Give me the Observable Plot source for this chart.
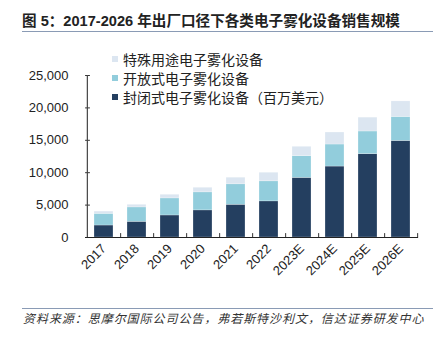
<!DOCTYPE html>
<html><head><meta charset="utf-8">
<script src="https://cdn.jsdelivr.net/npm/d3@7"></script>
<script src="https://cdn.jsdelivr.net/npm/@observablehq/plot@0.6"></script>
<style>
body{margin:0;background:#fff;width:446px;height:337px;position:relative;overflow:hidden;font-family:"Liberation Sans","Noto Sans CJK SC",sans-serif;}
#title{position:absolute;left:22px;top:12px;font-size:14.6px;font-weight:bold;color:#222;white-space:nowrap;line-height:18px;}
.hline{position:absolute;left:22px;width:411px;height:0;border-top:1px solid #8a9bb5;}
#chart{position:absolute;left:0;top:40px;}
#legend{position:absolute;left:112px;top:50px;font-size:14px;color:#222;font-family:"Noto Sans CJK SC",sans-serif;}
.row{display:flex;align-items:center;height:18.8px;white-space:nowrap;}
.sw{width:6px;height:6px;margin-right:5px;}
#caption{position:absolute;left:23px;top:309px;font-size:12px;font-style:italic;color:#333;white-space:nowrap;letter-spacing:0.95px;font-family:"Noto Sans CJK SC",sans-serif;line-height:18px;}
</style></head>
<body>
<div id="title">图 5：2017-2026 年出厂口径下各类电子雾化设备销售规模</div>
<div class="hline" style="top:31px"></div>
<div id="chart"></div>
<div id="legend"></div>
<div class="hline" style="top:308px"></div>
<div id="caption">资料来源：思摩尔国际公司公告，弗若斯特沙利文，信达证券研发中心</div>
<script>
const years = ["2017","2018","2019","2020","2021","2022","2023E","2024E","2025E","2026E"];
const closedVals  = [1850, 2420, 3400, 4180, 5050, 5570, 9200, 10950, 12860, 14900];
const openVals    = [1800, 2220, 2630, 2780, 3150, 3090, 3350, 3400, 3500, 3700];
const specialVals = [350, 410, 570, 720, 1030, 1340, 1450, 1850, 2140, 2400];
const seriesNames = ["封闭式电子雾化设备（百万美元）", "开放式电子雾化设备", "特殊用途电子雾化设备"];
const seriesColors = ["#243f60", "#92cddc", "#dce6f1"];
const yTicks = [0, 5000, 10000, 15000, 20000, 25000];

const allVals = [closedVals, openVals, specialVals];
const data = [];
seriesNames.forEach((s, i) => years.forEach((y, j) => data.push({year: y, series: s, value: allVals[i][j]})));

const W = 446, H = 260, mL = 85, mR = 28, mT = 35, mB = 63;
const step = (W - mL - mR) / years.length;
const tickShape = {draw(ctx, l){ ctx.moveTo(0,0); ctx.lineTo(0,-l); }};

const chart = Plot.plot({
  width: W, height: H,
  marginLeft: mL, marginRight: mR, marginTop: mT, marginBottom: mB,
  style: {fontFamily: "Liberation Sans, Arial, sans-serif", fontSize: "13px", color: "#222", background: "transparent"},
  x: {domain: years, paddingInner: 0.43, paddingOuter: 0.215, label: null},
  y: {domain: [0, 25000], label: null},
  color: {domain: seriesNames, range: seriesColors},
  marks: [
    Plot.barY(data, Plot.stackY({x: "year", y: "value", fill: "series", stroke: "#fff", strokeWidth: 0.4, strokeOpacity: 0.6})),
    Plot.axisY({ticks: yTicks, tickFormat: d3.format(","), tickSize: 0, tickPadding: 17, fontSize: 13, fill: "#222"}),
    Plot.axisX({tickSize: 0, tickPadding: 9, tickRotate: -45, fontSize: 13, fill: "#222"}),
    Plot.vector(yTicks, {y: d => d, frameAnchor: "left", rotate: 90, length: 4, anchor: "start", shape: tickShape, stroke: "#333", strokeWidth: 1}),
    Plot.vector(years, {x: d => d, dx: step / 2, frameAnchor: "bottom", rotate: 0, length: 4, anchor: "start", shape: tickShape, stroke: "#333", strokeWidth: 1}),
    Plot.ruleX([years[0]], {dx: -step / 2, y1: 0, y2: 25000, stroke: "#444", strokeWidth: 1.2}),
    Plot.ruleY([0], {stroke: "#222", strokeWidth: 1.2})
  ]
});
document.getElementById("chart").appendChild(chart);

const legend = document.getElementById("legend");
[2, 1, 0].forEach(i => {
  const row = document.createElement("div"); row.className = "row";
  const sw = document.createElement("div"); sw.className = "sw"; sw.style.background = seriesColors[i];
  const t = document.createElement("span"); t.textContent = seriesNames[i];
  row.appendChild(sw); row.appendChild(t); legend.appendChild(row);
});
</script>
</body></html>
